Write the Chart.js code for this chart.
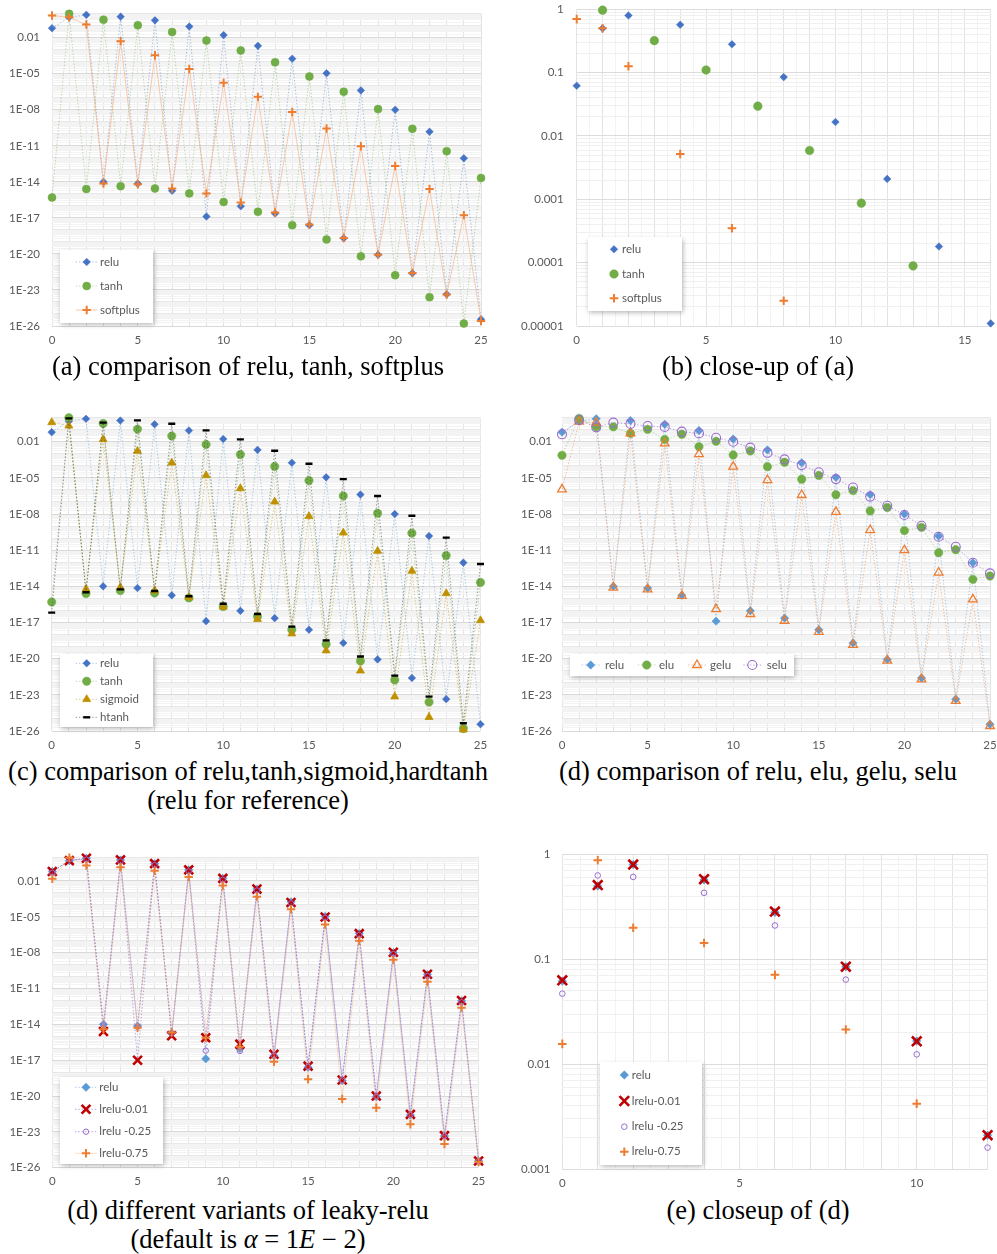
<!DOCTYPE html>
<html>
<head>
<meta charset="utf-8">
<script src="https://cdn.jsdelivr.net/npm/chart.js@4.4.1/dist/chart.umd.min.js"></script>
<style>
  html, body { margin: 0; padding: 0; background: #fff; }
  body { width: 997px; height: 1254px; position: relative; overflow: hidden; }
  canvas { position: absolute; }
  .cap { position: absolute; width: 496px; text-align: center; color: #000;
         font-family: "Liberation Serif", "Times New Roman", serif; font-size: 26.5px; line-height: 29px; }
</style>
</head>
<body>
<canvas id="chartA"></canvas>
<canvas id="chartB"></canvas>
<canvas id="chartC"></canvas>
<canvas id="chartD"></canvas>
<canvas id="chartE"></canvas>
<canvas id="chartF"></canvas>

<div class="cap" style="left:0;top:352px">(a) comparison of relu, tanh, softplus</div>
<div class="cap" style="left:510px;top:352px">(b) close-up of (a)</div>
<div class="cap" style="left:0;top:757px">(c) comparison of relu,tanh,sigmoid,hardtanh<br>(relu for reference)</div>
<div class="cap" style="left:510px;top:757px">(d) comparison of relu, elu, gelu, selu</div>
<div class="cap" style="left:0;top:1196px">(d) different variants of leaky-relu<br>(default is <i>α</i> = 1<i>E</i> − 2)</div>
<div class="cap" style="left:510px;top:1196px">(e) closeup of (d)</div>

<script>
// Layer index (x) and per-activation magnitudes (y, log scale)
const steps = [0, 1, 2, 3, 4, 5, 6, 7, 8, 9, 10, 11, 12, 13, 14, 15, 16, 17, 18, 19, 20, 21, 22, 23, 24, 25];

const relu = [0.062, 0.5, 0.8, 1.0e-14, 0.57, 7.2e-15, 0.28, 1.8e-15, 0.085, 1.3e-17,
              0.0166, 9.3e-17, 0.0021, 2.3e-17, 1.8e-4, 2.5e-18, 1.1e-5, 2.0e-19, 4.1e-7, 8.7e-21,
              1.0e-8, 2.5e-22, 1.5e-10, 4.4e-24, 9.3e-13, 3.6e-26];
const tanh = [5.0e-16, 0.97, 2.5e-15, 0.32, 4.4e-15, 0.11, 2.8e-15, 0.0296, 1.1e-15, 0.0059,
              2.1e-16, 8.7e-4, 3.2e-17, 8.9e-5, 2.5e-18, 6.0e-6, 1.6e-19, 3.2e-7, 6.3e-21, 1.15e-8,
              1.7e-22, 2.6e-10, 2.5e-24, 3.6e-12, 1.6e-26, 2.1e-14];
const softplus = [0.70, 0.50, 0.126, 7.2e-15, 0.0052, 6.3e-15, 3.5e-4, 2.8e-15, 2.5e-5, 1.1e-15,
                  1.8e-6, 1.9e-16, 1.2e-7, 2.8e-17, 6.5e-9, 2.8e-18, 2.8e-10, 2.1e-19, 9.3e-12, 8.7e-21,
                  2.1e-13, 2.6e-22, 2.6e-15, 4.1e-24, 1.7e-17, 2.6e-26];
const sigmoid = [0.40, 0.21, 6.0e-15, 0.0155, 8.3e-15, 0.0017, 4.4e-15, 1.8e-4, 1.2e-15, 1.6e-5,
                 2.0e-16, 1.35e-6, 1.9e-17, 1.05e-7, 1.2e-18, 6.5e-9, 4.7e-20, 2.8e-10, 1.0e-21, 8.5e-12,
                 7.1e-24, 1.9e-13, 1.4e-25, 2.6e-15, 1.3e-26, 1.5e-17];
const htanh = [6.6e-17, 0.87, 3.2e-15, 0.38, 5.6e-15, 0.59, 4.1e-15, 0.31, 1.5e-15, 0.087,
               3.6e-16, 0.0155, 5.1e-17, 0.0018, 4.6e-18, 1.5e-4, 3.3e-19, 7.9e-6, 1.5e-20, 3.1e-7,
               3.9e-22, 7.2e-9, 7.1e-24, 1.1e-10, 4.4e-26, 7.1e-13];
const elu = [7.4e-4, 0.87, 0.17, 0.17, 0.049, 0.105, 0.0155, 0.041, 0.0039, 0.0107,
             7.8e-4, 0.0017, 8.5e-5, 1.95e-4, 7.6e-6, 1.6e-5, 4.0e-7, 8.7e-7, 1.8e-8, 3.5e-8,
             4.2e-10, 7.8e-10, 6.2e-12, 1.1e-11, 3.8e-14, 7.2e-14];
const gelu = [1.1e-6, 0.46, 0.38, 7.8e-15, 0.049, 5.6e-15, 0.0072, 1.6e-15, 9.5e-4, 1.3e-16,
              8.5e-5, 5.1e-17, 6.6e-6, 1.4e-17, 3.8e-7, 1.7e-18, 1.5e-8, 1.4e-19, 4.7e-10, 6.9e-21,
              1.0e-11, 1.9e-22, 1.4e-13, 3.1e-24, 8.3e-16, 2.6e-26];
const selu = [0.041, 0.63, 0.155, 0.38, 0.30, 0.20, 0.17, 0.068, 0.049, 0.021,
              0.010, 0.0032, 0.0012, 3.4e-4, 1.15e-4, 2.9e-5, 7.9e-6, 1.6e-6, 2.8e-7, 4.9e-8,
              8.3e-9, 1.07e-9, 1.3e-10, 1.95e-11, 9.1e-13, 1.2e-13];
const lrelu001 = [0.063, 0.51, 0.80, 2.5e-15, 0.58, 1.0e-17, 0.285, 1.1e-15, 0.085, 7.6e-16,
                  0.0165, 2.2e-16, 0.0021, 3.1e-17, 1.6e-4, 3.2e-18, 9.8e-6, 2.2e-19, 3.9e-7, 1.0e-20,
                  1.07e-8, 2.9e-22, 1.55e-10, 4.8e-24, 1.0e-12, 3.6e-26];
const lrelu025 = [0.047, 0.63, 0.61, 8.9e-15, 0.43, 6.3e-15, 0.21, 1.8e-15, 0.064, 6.3e-17,
                  0.0124, 5.9e-17, 0.0016, 2.5e-17, 1.35e-4, 2.8e-18, 8.2e-6, 2.0e-19, 3.0e-7, 8.9e-21,
                  7.6e-9, 2.5e-22, 1.1e-10, 4.5e-24, 7.0e-13, 3.5e-26];
const lrelu075 = [0.0156, 0.88, 0.20, 3.8e-15, 0.143, 5.2e-15, 0.071, 2.1e-15, 0.0214, 7.6e-16,
                  0.0042, 1.35e-16, 4.9e-4, 7.4e-18, 4.3e-5, 2.5e-19, 2.3e-6, 5.6e-21, 1.0e-7, 1.05e-21,
                  2.5e-9, 4.3e-23, 3.7e-11, 9.5e-25, 2.5e-13, 3.0e-26];

// Axis tick labels
const xLabelsFull = ['0', '5', '10', '15', '20', '25'];
const xLabelsB = ['0', '5', '10', '15'];
const xLabelsF = ['0', '5', '10'];
const yLabelsFull = ['1E-26', '1E-23', '1E-20', '1E-17', '1E-14', '1E-11', '1E-08', '1E-05', '0.01'];
const yLabelsB = ['0.00001', '0.0001', '0.001', '0.01', '0.1', '1'];
const yLabelsF = ['0.001', '0.01', '0.1', '1'];

// ---------- shared styling ----------
const TICK_COLOR = '#595959';
const tickFont = { family: 'Lato, "Open Sans", sans-serif', size: 11.5 };
const LEGEND_FONT = '11.5px Lato, "Open Sans", sans-serif';

// keep the plot area exactly where the layout puts it (no extra room for edge labels)
function noEdgePadding(scale) {
  scale.paddingLeft = 0; scale.paddingRight = 0; scale.paddingTop = 0; scale.paddingBottom = 0;
}

function logAxis(g, min, max, labels, colors) {
  const vals = labels.map(Number);
  const find = v => vals.findIndex(l => Math.abs(Math.log10(v) - Math.log10(l)) < 1e-6);
  return {
    type: 'logarithmic', min, max,
    afterBuildTicks(scale) {
      const t = [];
      const e0 = Math.round(Math.log10(min)), e1 = Math.round(Math.log10(max));
      for (let e = e0; e < e1; e++) for (let m = 1; m <= 9; m++) t.push({ value: m * Math.pow(10, e) });
      t.push({ value: Math.pow(10, e1) });
      scale.ticks = t;
    },
    afterFit(scale) { scale.width = g.L - g.left; noEdgePadding(scale); },
    ticks: {
      autoSkip: false, padding: g.ypad, color: TICK_COLOR, font: tickFont,
      callback(v) { const i = find(v); return i >= 0 ? labels[i] : ''; }
    },
    grid: {
      drawTicks: false, lineWidth: 1,
      color(c) {
        const v = c.tick ? c.tick.value : null;
        if (v == null) return 'rgba(0,0,0,0)';
        if (find(v) >= 0) return colors[0];
        const lead = v / Math.pow(10, Math.floor(Math.log10(v) + 1e-9));
        return Math.abs(lead - 1) < 1e-6 ? colors[1] : colors[2];
      }
    },
    border: { display: false }
  };
}

function linAxis(g, min, max, step, labels, colors) {
  const vals = labels.map(Number);
  return {
    type: 'linear', min, max,
    afterBuildTicks(scale) {
      const t = [];
      const n = Math.round((max - min) / step);
      for (let k = 0; k <= n; k++) t.push({ value: min + k * step });
      scale.ticks = t;
    },
    afterFit(scale) { scale.height = g.top + g.h - g.B; noEdgePadding(scale); },
    ticks: {
      autoSkip: false, maxRotation: 0, minRotation: 0, padding: 7, color: TICK_COLOR, font: tickFont,
      callback(v) { const i = vals.indexOf(v); return i >= 0 ? labels[i] : ''; }
    },
    grid: {
      drawTicks: false, lineWidth: 1,
      color(c) {
        const v = c.tick ? c.tick.value : null;
        if (v == null) return 'rgba(0,0,0,0)';
        return Number.isInteger(v) ? colors[0] : colors[1];
      }
    },
    border: { display: false }
  };
}

// Legend drawn as a white, shadowed box inside the plot area
const boxLegend = {
  id: 'boxLegend',
  afterDatasetsDraw(chart, args, o) {
    if (!o || !o.box) return;
    const ctx = chart.ctx;
    const [bx, by, bw, bh] = o.box;
    ctx.save();
    ctx.shadowColor = 'rgba(0,0,0,0.30)';
    ctx.shadowBlur = 5; ctx.shadowOffsetX = 1; ctx.shadowOffsetY = 1.5;
    ctx.fillStyle = '#ffffff';
    ctx.fillRect(bx - o.ox, by - o.oy, bw, bh);
    ctx.restore();
    ctx.save();
    chart.data.datasets.forEach((d, i) => {
      const it = o.items[i];
      const mx = it[0] - o.ox, my = it[1] - o.oy, tx = it[2] - o.ox;
      if (o.half && d.showLine) {
        ctx.strokeStyle = d.borderColor; ctx.lineWidth = d.borderWidth || 1;
        ctx.setLineDash(d.borderDash || []);
        ctx.beginPath(); ctx.moveTo(mx - o.half, my); ctx.lineTo(mx + o.half, my); ctx.stroke();
      }
      ctx.setLineDash([]);
      ctx.fillStyle = d.pointBackgroundColor; ctx.strokeStyle = d.pointBorderColor;
      ctx.lineWidth = d.pointBorderWidth;
      Chart.helpers.drawPoint(ctx, { pointStyle: d.pointStyle, radius: d.pointRadius, borderWidth: d.pointBorderWidth, rotation: 0 }, mx, my);
      ctx.fillStyle = TICK_COLOR; ctx.font = LEGEND_FONT;
      ctx.textAlign = 'left'; ctx.textBaseline = 'middle';
      ctx.fillText(d.label, tx, my);
    });
    ctx.restore();
  }
};

function series(label, values, marker, line) {
  const d = Object.assign({ label, data: steps.map((x, i) => ({ x, y: values[i] })) }, marker);
  if (line) Object.assign(d, { showLine: true, borderColor: line.color, borderWidth: line.width || 1, borderDash: line.dash || [] });
  else d.showLine = false;
  return d;
}

function build(g, xAxis, yAxis, datasets, legend) {
  const cv = document.getElementById(g.id);
  cv.width = g.w; cv.height = g.h;
  cv.style.left = g.left + 'px'; cv.style.top = g.top + 'px';
  datasets.forEach((d, i) => { d.order = datasets.length - i; d.clip = 8; });
  return new Chart(cv, {
    type: 'scatter',
    data: { datasets },
    options: {
      responsive: false, animation: false, devicePixelRatio: 1,
      layout: { padding: { left: 0, bottom: 0, top: g.T - g.top, right: g.left + g.w - g.R } },
      scales: { x: xAxis, y: yAxis },
      plugins: {
        legend: { display: false }, tooltip: { enabled: false },
        boxLegend: Object.assign({ ox: g.left, oy: g.top }, legend)
      },
      elements: { line: { tension: 0 } }
    },
    plugins: [boxLegend]
  });
}

// marker styles
const BLUE = '#4472C4', LBLUE = '#5B9BD5', GREEN = '#70AD47', ORANGE = '#ED7D31',
      GOLD = '#BF9000', PURPLE = '#9A6BD2', RED = '#C00000';
const mk = (pointStyle, pointRadius, fill, stroke, pointBorderWidth) =>
  ({ pointStyle, pointRadius, pointBackgroundColor: fill, pointBorderColor: stroke, pointBorderWidth });
const NONE = 'rgba(255,255,255,0)';

const dot = [1.4, 1.9];
const L = {
  relu:  { color: 'rgba(68,114,196,0.45)', dash: dot },
  reluL: { color: 'rgba(91,155,213,0.5)', dash: dot },
  green: { color: 'rgba(112,173,71,0.45)', dash: dot },
  peach: { color: 'rgba(244,177,131,0.75)', width: 0.9 },
  peachSoft: { color: 'rgba(244,177,131,0.45)', width: 0.9 },
  gold:  { color: 'rgba(191,144,0,0.5)', dash: dot },
  dark:  { color: 'rgba(70,70,70,0.55)', dash: dot },
  orange:{ color: 'rgba(237,125,49,0.5)', dash: dot },
  purple:{ color: 'rgba(140,100,200,0.6)', dash: dot }
};

const wideGridY = ['#d9d9d9', '#e8e8e8', '#f3f3f3'];
const wideGridX = ['#e3e3e3', '#f3f3f3'];
const closeGridY = ['#dcdcdc', '#dcdcdc', '#f0f0f0'];
const closeGridX = ['#e3e3e3', '#f3f3f3'];

// ---------- (a) relu / tanh / softplus ----------
const gA = { id: 'chartA', left: 0, top: 0, w: 495, h: 352, L: 52, R: 481, T: 13.7, B: 326, ypad: 12 };
build(gA,
  linAxis(gA, 0, 25, 1, xLabelsFull, wideGridX),
  logAxis(gA, 1e-26, 1, yLabelsFull, wideGridY),
  [
    series('relu', relu, mk('rectRot', 3.8, BLUE, BLUE, 0.5), L.relu),
    series('tanh', tanh, mk('circle', 4, GREEN, GREEN, 0.5), L.green),
    series('softplus', softplus, mk('cross', 4.2, ORANGE, ORANGE, 2), L.peach)
  ],
  { box: [60, 250, 93, 73], half: 11, items: [[86.7, 262, 100], [86.7, 286, 100], [86.7, 310, 100]] });

// ---------- (b) close-up ----------
const gB = { id: 'chartB', left: 500, top: 0, w: 497, h: 352, L: 576.7, R: 992.7, T: 9.3, B: 326, ypad: 13 };
build(gB,
  linAxis(gB, 0, 16, 0.5, xLabelsB, closeGridX),
  logAxis(gB, 1e-5, 1, yLabelsB, closeGridY),
  [
    series('relu', relu, mk('rectRot', 3.8, BLUE, BLUE, 0.5)),
    series('tanh', tanh, mk('circle', 4.3, GREEN, GREEN, 0.5)),
    series('softplus', softplus, mk('cross', 4.3, ORANGE, ORANGE, 2))
  ],
  { box: [588, 237, 94, 74], half: 0, items: [[614, 249.3, 622], [614, 274, 622], [614, 298.3, 622]] });

// ---------- (c) relu / tanh / sigmoid / hardtanh ----------
const gC = { id: 'chartC', left: 0, top: 400, w: 495, h: 355, L: 51.7, R: 480.5, T: 417.6, B: 731, ypad: 12 };
build(gC,
  linAxis(gC, 0, 25, 1, xLabelsFull, wideGridX),
  logAxis(gC, 1e-26, 1, yLabelsFull, wideGridY),
  [
    series('relu', relu, mk('rectRot', 3.8, BLUE, BLUE, 0.5), L.reluL),
    series('tanh', tanh, mk('circle', 4.2, GREEN, GREEN, 0.5), L.green),
    series('sigmoid', sigmoid, mk('triangle', 4.6, GOLD, GOLD, 0.8), L.gold),
    series('htanh', htanh, mk('line', 3.5, '#000', '#000', 2.4), L.dark)
  ],
  { box: [60, 654, 93, 73], half: 11, items: [[86.7, 663.3, 100], [86.7, 681.3, 100], [86.7, 699.3, 100], [86.7, 717.3, 100]] });

// ---------- (d) relu / elu / gelu / selu ----------
const gD = { id: 'chartD', left: 500, top: 400, w: 497, h: 355, L: 562, R: 990, T: 417.6, B: 731, ypad: 10 };
build(gD,
  linAxis(gD, 0, 25, 1, xLabelsFull, wideGridX),
  logAxis(gD, 1e-26, 1, yLabelsFull, wideGridY),
  [
    series('relu', relu, mk('rectRot', 4.2, LBLUE, LBLUE, 0.5), L.reluL),
    series('elu', elu, mk('circle', 4.2, GREEN, GREEN, 0.5), L.green),
    series('gelu', gelu, mk('triangle', 5, NONE, ORANGE, 1.3), L.orange),
    series('selu', selu, mk('circle', 4.5, NONE, PURPLE, 1.1), L.purple)
  ],
  { box: [570, 654, 224, 22], half: 9, items: [[590.7, 665, 605], [646.7, 665, 659], [697, 665, 710], [752.3, 665, 766.7]] });

// ---------- (d) leaky-relu variants ----------
const gE = { id: 'chartE', left: 0, top: 845, w: 495, h: 350, L: 52.3, R: 478.6, T: 857.1, B: 1167.7, ypad: 12 };
build(gE,
  linAxis(gE, 0, 25, 1, xLabelsFull, wideGridX),
  logAxis(gE, 1e-26, 1, yLabelsFull, wideGridY),
  [
    series('relu', relu, mk('rectRot', 4.2, LBLUE, LBLUE, 0.5), L.reluL),
    series('lrelu-0.01', lrelu001, mk('crossRot', 6.2, RED, RED, 2.6), L.purple),
    series('lrelu -0.25', lrelu025, mk('circle', 2.7, NONE, PURPLE, 1), L.purple),
    series('lrelu-0.75', lrelu075, mk('cross', 4.2, ORANGE, ORANGE, 2), L.peachSoft)
  ],
  { box: [60, 1077, 103, 87], half: 11, items: [[86, 1087.3, 99.3], [86, 1109.3, 99.3], [86, 1131.7, 99.3], [86, 1153.3, 99.3]] });

// ---------- (e) close-up of leaky-relu ----------
const gF = { id: 'chartF', left: 500, top: 845, w: 497, h: 350, L: 562.3, R: 990, T: 853.3, B: 1169, ypad: 12 };
build(gF,
  linAxis(gF, 0, 12, 0.5, xLabelsF, closeGridX),
  logAxis(gF, 1e-3, 1, yLabelsF, closeGridY),
  [
    series('relu', relu, mk('rectRot', 4.3, LBLUE, LBLUE, 0.5)),
    series('lrelu-0.01', lrelu001, mk('crossRot', 6.8, RED, RED, 2.6)),
    series('lrelu -0.25', lrelu025, mk('circle', 2.8, NONE, PURPLE, 1)),
    series('lrelu-0.75', lrelu075, mk('cross', 4.3, ORANGE, ORANGE, 2))
  ],
  { box: [600, 1062, 102, 103], half: 0, items: [[624.3, 1075, 631.7], [624.3, 1101, 631.7], [624.3, 1126.7, 631.7], [624.3, 1151.7, 631.7]] });
</script>
</body>
</html>
